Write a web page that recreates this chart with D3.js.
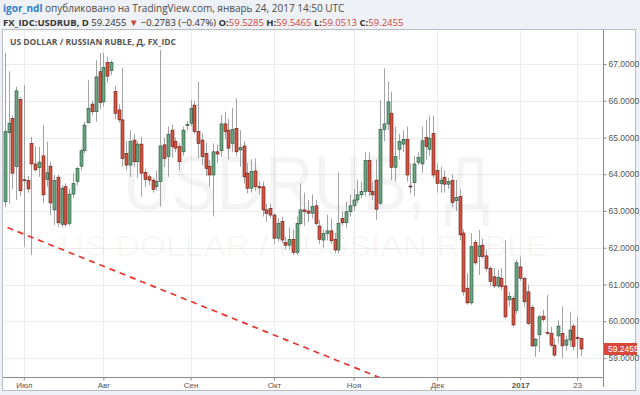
<!DOCTYPE html>
<html>
<head>
<meta charset="utf-8">
<script src="https://cdn.jsdelivr.net/npm/d3@7"></script>
<style>
  body { margin: 0; background: #eef1f5; }
  svg { display: block; }
  text { font-family: "Open Sans", "Liberation Sans", sans-serif; }
</style>
</head>
<body>
<svg></svg>
<script>
var width = 640;
var height = 395;

// daily candles, first bar = 24 Jun 2016, last = 24 Jan 2017 (weekdays only)
var startDate = "2016-06-24";
var opens = [63.25,65.13,65.52,64.21,66.04,63.85,63.83,64.84,64.28,64.18,64.50,63.86,64.22,63.03,63.92,62.64,63.66,62.66,63.46,63.80,
  64.22,64.64,65.40,65.91,65.70,66.79,65.97,67.04,66.82,66.25,65.75,65.48,64.57,64.25,64.93,64.34,64.82,64.05,63.93,63.84,
  63.66,63.80,64.80,64.48,65.20,64.89,64.75,64.61,65.33,65.39,65.88,65.16,64.93,64.57,64.21,63.98,64.61,64.64,65.37,65.20,
  64.84,65.25,64.66,64.77,64.03,63.62,64.09,63.66,63.66,63.03,63.07,62.89,62.26,62.71,62.14,62.07,62.23,61.87,62.66,63.03,
  63.00,62.94,63.14,62.59,62.21,62.39,62.46,62.23,61.94,62.80,62.68,62.98,63.14,63.30,63.44,63.53,64.37,63.53,63.84,63.21,
  65.22,65.37,65.66,64.19,64.68,64.82,64.95,63.68,63.77,64.32,64.28,65.00,64.68,65.11,64.10,63.75,63.92,63.73,63.83,63.28,
  63.39,62.40,60.90,60.50,62.14,61.76,62.07,61.78,61.44,61.21,60.96,61.17,60.96,60.58,60.62,60.29,61.48,61.17,60.80,60.38,
  59.33,59.63,60.14,59.70,59.67,59.35,59.60,59.67,59.35,59.49,59.87,59.56,59.5285];
var highs = [67.30,66.80,65.60,66.38,66.10,66.43,63.95,65.02,64.75,64.75,65.34,64.89,64.34,63.98,63.98,63.70,63.75,63.60,64.03,64.20,
  64.70,65.43,66.56,66.00,67.10,67.30,67.30,67.20,67.10,66.40,65.90,66.90,64.90,65.20,65.10,64.90,65.02,64.15,64.00,63.90,
  64.10,67.38,65.00,65.30,65.35,65.00,64.85,65.30,65.45,66.02,66.00,66.52,65.12,64.85,64.39,64.84,64.80,65.61,65.70,65.50,
  65.80,66.07,65.20,64.90,64.30,64.40,64.43,63.80,63.80,63.20,63.20,62.95,62.80,62.85,62.30,62.55,62.50,62.85,63.75,63.50,
  63.30,63.45,63.30,62.75,62.50,62.90,62.80,62.40,64.04,63.00,63.25,63.45,63.60,63.85,63.80,64.60,64.60,63.80,64.40,66.02,
  66.88,66.52,66.25,65.30,65.10,65.20,65.30,64.30,64.50,64.60,65.30,65.48,65.60,65.60,64.30,64.20,64.10,63.90,64.00,63.85,
  63.60,62.50,61.30,62.40,62.21,62.48,62.25,61.95,61.50,61.45,61.40,61.45,62.21,60.80,60.70,61.67,61.76,61.20,61.00,60.44,
  59.54,60.17,60.31,60.71,59.85,59.54,60.03,60.40,59.60,60.26,59.94,60.12,59.5465];
var lows = [63.10,63.20,63.60,63.30,63.40,62.03,63.50,61.80,64.07,63.93,63.21,63.66,62.89,62.62,62.57,62.55,62.57,62.60,63.35,63.70,
  64.10,64.57,65.39,65.60,65.43,65.78,65.84,66.50,66.70,65.50,65.40,64.20,64.10,63.93,64.20,63.90,63.39,63.65,63.70,63.50,
  63.55,63.12,64.20,63.93,64.45,64.60,64.10,64.50,65.20,65.30,65.10,64.43,64.25,63.95,63.66,62.85,64.30,64.48,64.95,64.40,
  64.60,64.50,64.20,63.75,63.48,63.50,63.55,63.45,62.85,62.70,62.80,62.10,62.17,62.13,61.95,61.95,61.80,61.80,62.62,62.60,
  62.70,62.80,62.60,62.10,62.00,62.20,62.10,61.85,61.85,62.60,62.55,62.85,63.00,63.20,63.35,63.40,63.40,63.30,62.76,63.16,
  64.90,65.20,63.84,63.80,64.40,64.60,63.80,63.48,63.40,64.25,64.03,64.40,64.50,63.90,63.50,63.50,63.50,63.60,63.10,63.00,
  62.20,60.70,60.45,60.45,61.53,61.26,61.70,61.35,60.95,60.90,60.90,60.85,60.08,60.40,59.85,60.20,61.10,60.40,59.90,59.30,
  59.03,59.17,59.99,59.63,59.30,59.03,59.40,58.99,59.20,59.31,59.20,58.99,59.0513];
var closes = [65.16,65.39,64.03,66.27,63.55,63.83,63.60,64.28,64.12,64.33,63.44,64.04,63.22,63.83,62.68,63.62,62.64,63.46,63.75,64.16,
  64.64,65.34,65.79,65.70,66.65,65.95,66.91,66.67,67.04,65.66,65.48,64.43,64.25,64.89,64.34,64.82,64.03,63.86,63.84,63.59,
  63.80,64.77,64.43,65.09,64.75,64.71,64.34,65.20,65.35,65.79,65.16,64.84,64.48,64.16,63.98,64.61,64.55,65.37,65.16,64.71,
  65.22,64.61,64.73,63.93,63.62,64.07,63.66,63.63,63.03,62.93,62.89,62.26,62.66,62.21,62.07,62.23,61.87,62.66,63.03,62.98,
  62.94,63.12,62.66,62.23,62.39,62.46,62.19,61.94,62.66,62.68,62.98,63.14,63.30,63.44,63.53,64.37,63.53,63.44,63.05,65.22,
  65.37,65.97,64.19,64.48,64.89,64.95,63.98,63.66,64.28,64.46,64.91,64.75,64.98,63.98,63.75,63.84,63.73,63.80,63.23,63.37,
  62.35,60.80,60.50,62.03,61.59,62.05,61.76,61.44,61.08,60.96,61.20,60.94,60.12,60.67,59.90,61.59,61.17,60.53,59.94,59.33,
  59.51,60.12,60.05,59.68,59.35,59.08,59.87,59.33,59.49,59.76,59.31,59.54,59.2455];

var priceTicks = [59, 60, 61, 62, 63, 64, 65, 66, 67];
var timeTickDates = ["2016-07-01", "2016-08-01", "2016-09-01", "2016-10-03", "2016-11-01", "2016-12-01", "2017-01-02", "2017-01-23"];
var timeTickLabels = ["Июл", "Авг", "Сен", "Окт", "Ноя", "Дек", "2017", "23"];

// hand drawn trend line (date, price)
var trendDates = ["2016-06-24", "2016-11-11"];
var trendValues = [62.58, 58.42];

var lastPrice = 59.2455;

// build the list of trading days
var parse = d3.timeParse("%Y-%m-%d");
var fmt = d3.timeFormat("%Y-%m-%d");
var days = [];
var day = parse(startDate);
while (days.length < closes.length) {
  if (day.getDay() != 0 && day.getDay() != 6) days.push(fmt(day));
  day = d3.timeDay.offset(day, 1);
}
var dayIndex = function (s) { return days.indexOf(s); };

var candles = days.map(function (d, i) {
  return { date: d, i: i, o: opens[i], h: highs[i], l: lows[i], c: closes[i] };
});

var plot = { left: 3, right: 603, top: 30, bottom: 377 };

var x = d3.scaleLinear().domain([0, days.length - 1]).range([4.85, 580.9]);
var y = d3.scaleLinear().domain([67, 59]).range([64, 358]);

var svg = d3.select('svg')
    .attr('width', width)
    .attr('height', height);

svg.append('rect').attr('width', width).attr('height', height).attr('fill', '#eef1f5');

// header
var h1 = svg.append('text').attr('x', 3).attr('y', 12).style('font-size', '10px').attr('fill', '#4a4a4a');
h1.append('tspan').text('igor_ndl').attr('fill', '#2f80c8').style('font-weight', 'bold');
h1.append('tspan').text(' опубликовано на TradingView.com, январь 24, 2017 14:50 UTC');

var red = '#d2463a';
var h2 = svg.append('text').attr('x', 3).attr('y', 26).style('font-size', '9.5px').attr('fill', '#333');
h2.append('tspan').text('FX_IDC:USDRUB, D').style('font-weight', 'bold');
h2.append('tspan').text(' 59.2455 ');
h2.append('tspan').text('▼').attr('fill', red);
h2.append('tspan').text(' −0.2783 (−0.47%) ');
[['O:', '59.5285'], ['H:', '59.5465'], ['L:', '59.0513'], ['C:', '59.2455']].forEach(function (p) {
  h2.append('tspan').text(p[0]).style('font-weight', 'bold');
  h2.append('tspan').text(p[1] + ' ').attr('fill', red);
});

// chart panel
svg.append('rect')
    .attr('x', 2.5).attr('y', 29.5).attr('width', 633).attr('height', 361)
    .attr('fill', '#fff').attr('stroke', '#b9bcc0');

svg.append('clipPath').attr('id', 'clip')
  .append('rect')
    .attr('x', plot.left).attr('y', plot.top)
    .attr('width', plot.right - plot.left).attr('height', plot.bottom - plot.top);

// grid
svg.append('g').selectAll('line').data(priceTicks).enter().append('line')
    .attr('x1', plot.left).attr('x2', plot.right)
    .attr('y1', function (d) { return Math.round(y(d)) + 0.5; })
    .attr('y2', function (d) { return Math.round(y(d)) + 0.5; })
    .attr('stroke', '#ededed');
svg.append('g').selectAll('line').data(timeTickDates).enter().append('line')
    .attr('x1', function (d) { return Math.round(x(dayIndex(d))) + 0.5; })
    .attr('x2', function (d) { return Math.round(x(dayIndex(d))) + 0.5; })
    .attr('y1', plot.top).attr('y2', plot.bottom)
    .attr('stroke', '#ededed');

// watermark
svg.append('text').text('USDRUB, Д')
    .attr('x', 123).attr('y', 210).attr('textLength', 367)
    .attr('lengthAdjust', 'spacingAndGlyphs')
    .style('font-family', '"Liberation Sans", sans-serif')
    .style('font-size', '78px').attr('fill', '#000').attr('fill-opacity', 0.045);
svg.append('text').text('US DOLLAR / RUSSIAN RUBLE')
    .attr('x', 60).attr('y', 256).attr('textLength', 488)
    .attr('lengthAdjust', 'spacingAndGlyphs')
    .style('font-family', '"Liberation Sans", sans-serif')
    .style('font-size', '29px').attr('fill', '#000').attr('fill-opacity', 0.045);

svg.append('text').text('US DOLLAR / RUSSIAN RUBLE, Д, FX_IDC')
    .attr('x', 10).attr('y', 45)
    .style('font-size', '8.5px').style('font-weight', 'bold').attr('fill', '#555');

var g = svg.append('g').attr('clip-path', 'url(#clip)');

// wicks
g.selectAll('line.wick').data(candles).enter().append('line')
    .attr('class', 'wick')
    .attr('x1', function (d) { return Math.round(x(d.i)) + 0.5; })
    .attr('x2', function (d) { return Math.round(x(d.i)) + 0.5; })
    .attr('y1', function (d) { return y(d.h); })
    .attr('y2', function (d) { return y(d.l); })
    .attr('stroke', '#a3a3a5');

// bodies
g.selectAll('rect.body').data(candles).enter().append('rect')
    .attr('class', 'body')
    .attr('x', function (d) { return Math.round(x(d.i)) - 1; })
    .attr('width', 3)
    .attr('y', function (d) { return y(Math.max(d.o, d.c)); })
    .attr('height', function (d) { return Math.max(1, Math.abs(y(d.o) - y(d.c))); })
    .attr('fill', function (d) { return d.c >= d.o ? '#6ba583' : '#d75442'; })
    .attr('stroke', function (d) { return d.c >= d.o ? '#225437' : '#5b1a13'; })
    .attr('stroke-width', 0.6);

// trend line, stretched back to the left edge of the plot
var slope = (trendValues[1] - trendValues[0]) / (dayIndex(trendDates[1]) - dayIndex(trendDates[0]));
g.append('path')
    .attr('d', d3.line()([
      [x(-2), y(trendValues[0] - 2 * slope)],
      [x(dayIndex(trendDates[1])), y(trendValues[1])]
    ]))
    .attr('fill', 'none')
    .attr('stroke', '#e8332b')
    .attr('stroke-width', 1.7)
    .attr('stroke-dasharray', '6,5');

// borders
svg.append('line').attr('x1', plot.right + 0.5).attr('x2', plot.right + 0.5)
    .attr('y1', plot.top).attr('y2', plot.bottom + 10).attr('stroke', '#8a8a8a');
svg.append('line').attr('x1', plot.left).attr('x2', plot.right)
    .attr('y1', plot.bottom + 0.5).attr('y2', plot.bottom + 0.5).attr('stroke', '#8a8a8a');

// price axis
var yAxis = d3.axisRight(y).tickValues(priceTicks).tickFormat(d3.format('.4f')).tickSize(3).tickPadding(2);
var ya = svg.append('g').attr('transform', 'translate(' + (plot.right + 0.5) + ',0)').call(yAxis);
ya.select('.domain').remove();
ya.selectAll('line').attr('stroke', '#8a8a8a');
ya.selectAll('text').style('font-family', '"Liberation Sans", Arial, sans-serif').style('font-size', '8.5px').attr('fill', '#555');

// time axis
var xAxis = d3.axisBottom(x)
    .tickValues(timeTickDates.map(dayIndex))
    .tickFormat(function (d, i) { return timeTickLabels[i]; })
    .tickSize(3).tickPadding(2);
var xa = svg.append('g').attr('transform', 'translate(0,' + (plot.bottom + 0.5) + ')').call(xAxis);
xa.select('.domain').remove();
xa.selectAll('line').attr('stroke', '#8a8a8a');
xa.selectAll('text').style('font-family', '"Liberation Sans", Arial, sans-serif').style('font-size', '8px').attr('fill', '#555')
    .style('font-weight', function (d, i) { return timeTickLabels[i] == '2017' ? 'bold' : 'normal'; });

// last price label
var lp = svg.append('g').attr('transform', 'translate(' + (plot.right + 1) + ',' + y(lastPrice) + ')');
lp.append('rect').attr('x', 0).attr('y', -6).attr('width', 33).attr('height', 12).attr('fill', '#d9473b');
lp.append('text').text(d3.format('.4f')(lastPrice)).attr('x', 4).attr('y', 3)
    .style('font-family', '"Liberation Sans", Arial, sans-serif').style('font-size', '8.5px').attr('fill', '#fff');
</script>
</body>
</html>
